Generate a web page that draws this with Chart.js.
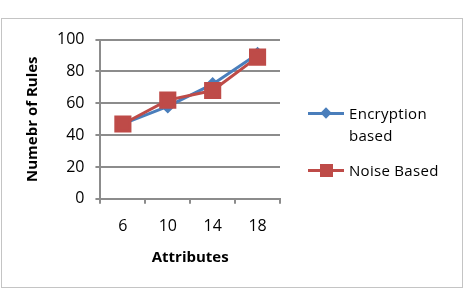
<!DOCTYPE html>
<html>
<head>
<meta charset="utf-8">
<script src="https://cdn.jsdelivr.net/npm/chart.js@4"></script>
<style>
  body { margin: 0; background: #fff; font-family: "Open Sans", sans-serif; }
  #frame { position: absolute; left: 1px; top: 18px; width: 460px; height: 268px; border: 1px solid #c4c4c4; }
  #myChart { position: absolute; left: 0; top: 0; }
  .legend { position: absolute; font-size: 15px; color: #000; line-height: 22px; letter-spacing: 0.3px; }
  .swatch { position: absolute; height: 3px; width: 36px; }
  .mark { position: absolute; }
</style>
</head>
<body>
<div id="frame">
  <canvas id="myChart" width="460" height="268"></canvas>
</div>
<div class="legend" style="left:308px; top:102px;">
  <div class="swatch" style="left:0; top:10px; background:#4A7EBB;"></div>
  <div class="mark" style="left:14px; top:7px; width:8px; height:8px; background:#4A7EBB; transform:rotate(45deg);"></div>
  <div style="position:absolute; left:41px; top:0; white-space:nowrap;">Encryption<br>based</div>
</div>
<div class="legend" style="left:308px; top:159px;">
  <div class="swatch" style="left:0; top:10px; background:#BE4B48;"></div>
  <div class="mark" style="left:12px; top:5px; width:13px; height:13px; background:#BE4B48;"></div>
  <div style="position:absolute; left:41px; top:0; white-space:nowrap;">Noise Based</div>
</div>
<script>
const attributes = ['6', '10', '14', '18'];
const encryptionBased = [47, 58, 72, 91];
const noiseBased = [47, 62, 68, 89];

function draw_chart() {
    const ctx = document.getElementById('myChart');
    const gridColor = '#8c8c8c';

    new Chart(ctx, {
        type: 'line',
        data: {
            labels: attributes,
            datasets: [{
                label: 'Encryption based',
                data: encryptionBased,
                borderColor: '#4A7EBB',
                backgroundColor: '#4A7EBB',
                borderWidth: 3,
                pointStyle: 'rectRot',
                pointRadius: 5,
                order: 1
            }, {
                label: 'Noise Based',
                data: noiseBased,
                borderColor: '#BE4B48',
                backgroundColor: '#BE4B48',
                borderWidth: 3,
                pointStyle: 'rect',
                pointRadius: 10,
                order: 0
            }]
        },
        options: {
            responsive: false,
            animation: false,
            layout: {
                padding: { left: 18, right: 182, top: 11, bottom: 16 }
            },
            plugins: {
                legend: { display: false },
                tooltip: { enabled: false }
            },
            scales: {
                x: {
                    offset: true,
                    title: {
                        display: true,
                        text: 'Attributes',
                        color: '#000',
                        font: { family: 'Open Sans', size: 15, weight: 'bold' },
                        padding: { top: 0 }
                    },
                    grid: {
                        offset: true,
                        drawOnChartArea: false,
                        tickLength: 5,
                        color: gridColor,
                        lineWidth: 2
                    },
                    border: { color: gridColor, width: 2 },
                    ticks: {
                        color: '#000',
                        padding: 13,
                        font: { family: 'Open Sans', size: 16 }
                    }
                },
                y: {
                    min: 0,
                    max: 100,
                    title: {
                        display: true,
                        text: 'Numebr of Rules',
                        color: '#000',
                        font: { family: 'Open Sans', size: 15, weight: 'bold' },
                        padding: { bottom: 4 }
                    },
                    grid: {
                        tickLength: 5,
                        color: gridColor,
                        lineWidth: 2
                    },
                    border: { color: gridColor, width: 2 },
                    ticks: {
                        stepSize: 20,
                        color: '#000',
                        padding: 11,
                        font: { family: 'Open Sans', size: 16 }
                    }
                }
            }
        }
    });
}

draw_chart();
</script>
</body>
</html>
